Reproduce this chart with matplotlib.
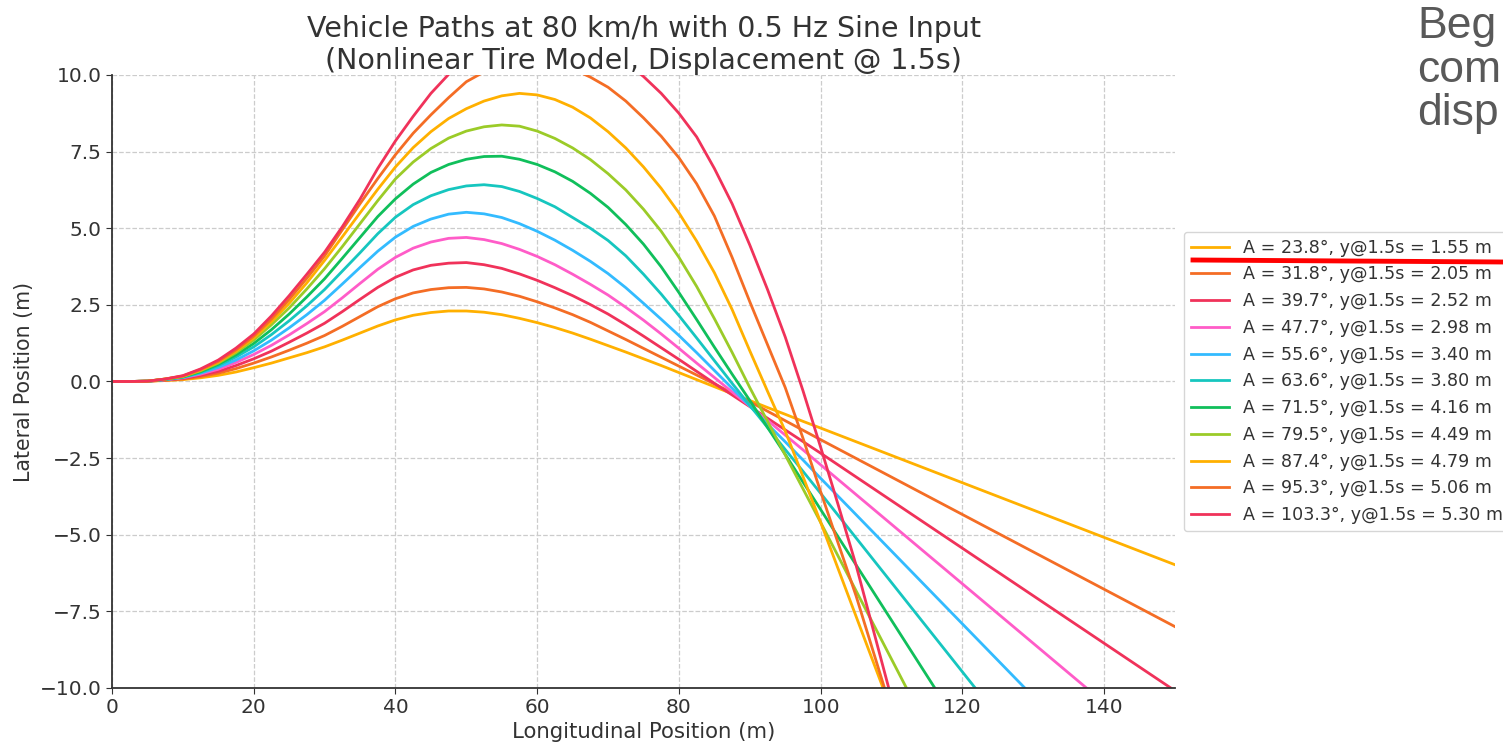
import numpy as np
import matplotlib.pyplot as plt
from matplotlib.lines import Line2D

# steering amplitudes and lateral displacement at 1.5 s (legend values)
amps = [23.8, 31.8, 39.7, 47.7, 55.6, 63.6, 71.5, 79.5, 87.4, 95.3, 103.3]
y_at_15 = [1.55, 2.05, 2.52, 2.98, 3.40, 3.80, 4.16, 4.49, 4.79, 5.06, 5.30]

# longitudinal positions (m) where the paths were read, 0..100 m every 2.5 m
x_grid = list(np.arange(0, 100.1, 2.5))

# lateral positions (m) at x_grid
y_a1 = [0, 0, 0.01, 0.03, 0.06, 0.12, 0.20, 0.31, 0.45, 0.60, 0.77, 0.94, 1.13, 1.35, 1.58, 1.81, 2.01,
        2.16, 2.25, 2.30, 2.30, 2.26, 2.18, 2.06, 1.92, 1.76, 1.58, 1.38, 1.17, 0.96, 0.74, 0.52, 0.29,
        0.06, -0.17, -0.40, -0.62, -0.85, -1.07, -1.30, -1.52]
y_a2 = [0, 0, 0.01, 0.04, 0.08, 0.16, 0.27, 0.42, 0.60, 0.80, 1.02, 1.25, 1.50, 1.80, 2.12, 2.44, 2.70,
        2.89, 3.00, 3.06, 3.07, 3.02, 2.92, 2.78, 2.60, 2.40, 2.18, 1.93, 1.65, 1.37, 1.08, 0.79, 0.50,
        0.21, -0.08, -0.37, -0.66, -0.97, -1.28, -1.59, -1.90]
y_a3 = [0, 0, 0.01, 0.05, 0.10, 0.20, 0.33, 0.52, 0.74, 0.99, 1.28, 1.58, 1.90, 2.28, 2.68, 3.07, 3.40,
        3.64, 3.79, 3.86, 3.88, 3.81, 3.69, 3.51, 3.30, 3.06, 2.80, 2.51, 2.20, 1.85, 1.48, 1.10, 0.72,
        0.33, -0.06, -0.44, -0.82, -1.20, -1.58, -1.96, -2.34]
y_a4 = [0, 0, 0.01, 0.06, 0.12, 0.24, 0.40, 0.62, 0.88, 1.18, 1.52, 1.89, 2.28, 2.73, 3.20, 3.66, 4.05,
        4.35, 4.55, 4.67, 4.70, 4.63, 4.50, 4.31, 4.08, 3.81, 3.50, 3.17, 2.82, 2.42, 2.00, 1.55, 1.08,
        0.60, 0.13, -0.34, -0.80, -1.27, -1.75, -2.23, -2.72]
y_a5 = [0, 0, 0.01, 0.06, 0.13, 0.27, 0.46, 0.70, 1.00, 1.35, 1.75, 2.18, 2.65, 3.18, 3.72, 4.25, 4.71,
        5.06, 5.30, 5.46, 5.52, 5.47, 5.35, 5.15, 4.90, 4.61, 4.28, 3.92, 3.52, 3.06, 2.55, 2.03, 1.50,
        0.94, 0.36, -0.22, -0.80, -1.39, -1.97, -2.56, -3.16]
y_a6 = [0, 0, 0.01, 0.07, 0.14, 0.30, 0.52, 0.80, 1.13, 1.53, 1.98, 2.47, 3.00, 3.60, 4.20, 4.82, 5.36,
        5.77, 6.06, 6.26, 6.38, 6.42, 6.36, 6.20, 5.97, 5.70, 5.35, 5.00, 4.60, 4.10, 3.50, 2.85, 2.15,
        1.42, 0.68, -0.06, -0.78, -1.50, -2.22, -2.93, -3.65]
y_a7 = [0, 0, 0.01, 0.07, 0.15, 0.32, 0.56, 0.87, 1.24, 1.69, 2.20, 2.76, 3.35, 4.02, 4.70, 5.38, 5.96,
        6.44, 6.82, 7.08, 7.25, 7.34, 7.35, 7.25, 7.08, 6.84, 6.53, 6.14, 5.68, 5.12, 4.48, 3.74, 2.90,
        2.02, 1.12, 0.24, -0.62, -1.50, -2.38, -3.28, -4.18]
y_a8 = [0, 0, 0.01, 0.08, 0.16, 0.35, 0.60, 0.94, 1.35, 1.85, 2.40, 3.02, 3.68, 4.40, 5.15, 5.90, 6.61,
        7.16, 7.60, 7.94, 8.17, 8.31, 8.37, 8.33, 8.17, 7.93, 7.62, 7.24, 6.78, 6.25, 5.62, 4.90, 4.05,
        3.10, 2.05, 0.95, -0.20, -1.30, -2.40, -3.50, -4.60]
y_a9 = [0, 0, 0.01, 0.08, 0.17, 0.37, 0.63, 0.99, 1.42, 1.95, 2.55, 3.22, 3.95, 4.72, 5.50, 6.27, 7.00,
        7.63, 8.15, 8.58, 8.90, 9.15, 9.32, 9.40, 9.35, 9.20, 8.95, 8.60, 8.15, 7.62, 7.00, 6.30, 5.50,
        4.58, 3.55, 2.35, 1.00, -0.32, -1.62, -3.10, -4.60]
y_a10 = [0, 0, 0.01, 0.08, 0.18, 0.39, 0.66, 1.03, 1.48, 2.04, 2.68, 3.37, 4.10, 4.95, 5.80, 6.62, 7.40,
         8.10, 8.70, 9.26, 9.78, 10.10, 10.30, 10.42, 10.45, 10.38, 10.20, 9.93, 9.60, 9.15, 8.60, 8.00, 7.30,
         6.45, 5.40, 4.05, 2.60, 1.20, -0.20, -1.85, -3.60]
y_a11 = [0, 0, 0.01, 0.08, 0.19, 0.41, 0.70, 1.09, 1.55, 2.14, 2.80, 3.50, 4.22, 5.05, 5.95, 6.95, 7.85,
         8.65, 9.40, 10.02, 10.55, 10.98, 11.30, 11.50, 11.57, 11.53, 11.38, 11.14, 10.82, 10.42, 9.95, 9.40, 8.75,
         7.98, 6.95, 5.80, 4.45, 3.00, 1.45, -0.30, -2.15]

# straight tails after x = 100 m (x list, y list)
tail_x = [[150], [150], [149.4], [137.5], [128.8], [121.8], [116.1], [112.1], [108.8], [102.5, 105, 109.0], [102.5, 105, 109.6]]
tail_y = [[-5.98], [-8.0], [-10], [-10], [-10], [-10], [-10], [-10], [-10], [-5.3, -7.0, -10], [-4.05, -6.0, -10]]

paths = [y_a1, y_a2, y_a3, y_a4, y_a5, y_a6, y_a7, y_a8, y_a9, y_a10, y_a11]
colors = ['#FFB000', '#F46D25', '#F0325A', '#FF5CC8', '#33BBFF', '#16C6BF',
          '#10BF5B', '#9BCB28', '#FFB000', '#F46D25', '#F0325A']

fig = plt.figure(figsize=(15.03, 7.44), dpi=100)
ax = fig.add_axes([0.0745, 0.0753, 0.7073, 0.8239])

for i in range(len(paths)):
    xs = x_grid + tail_x[i]
    ys = paths[i] + tail_y[i]
    ax.plot(xs, ys, color=colors[i], lw=2.0,
            label=f"A = {amps[i]:.1f}°, y@1.5s = {y_at_15[i]:.2f} m")

ax.set_xlim(0, 150)
ax.set_ylim(-10, 10)
ax.set_yticks(np.arange(-10, 10.1, 2.5))
ax.grid(True, linestyle='--', color='#cccccc', lw=0.9)
ax.spines['top'].set_visible(False)
ax.spines['right'].set_visible(False)
for s in ['left', 'bottom']:
    ax.spines[s].set_color('#333333')
    ax.spines[s].set_linewidth(1.3)
ax.tick_params(labelsize=14.5, colors='#333333', length=4.5, pad=3)
ax.set_title('Vehicle Paths at 80 km/h with 0.5 Hz Sine Input\n(Nonlinear Tire Model, Displacement @ 1.5s)',
             fontsize=20.5, color='#333333', y=1.0, pad=4, linespacing=1.22)
ax.set_xlabel('Longitudinal Position (m)', fontsize=15.3, color='#333333', labelpad=3.5)
ax.set_ylabel('Lateral Position (m)', fontsize=14.8, color='#333333')
ax.legend(loc='center left', bbox_to_anchor=(1.0, 0.5), fontsize=12.6, labelcolor='#333333',
          handlelength=2.2)

# hand-drawn red underline and cut-off slide text on the right
fig.add_artist(Line2D([1193 / 1503, 1.0], [1 - 260 / 744, 1 - 262 / 744], color='#ff0000', lw=3.5))
fig.text(1417 / 1503, 1 - 6 / 744, 'Beg\ncom\ndisp', fontsize=32, color='#595959',
         family='Liberation Sans', va='top', linespacing=1.08)

plt.savefig('out.png', dpi=100)
